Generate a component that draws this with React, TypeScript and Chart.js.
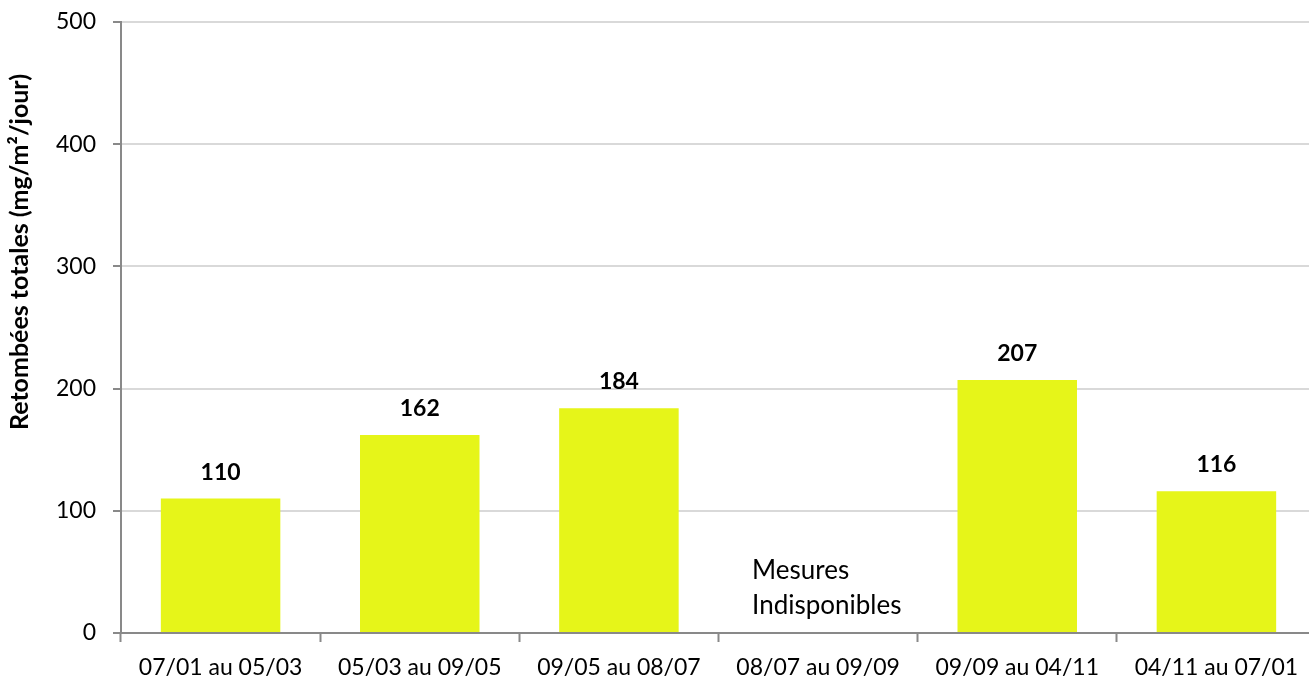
import React, { useEffect, useRef } from "react";
import { Chart, registerables } from "chart.js";

Chart.register(...registerables);

const categories = [
  "07/01 au 05/03",
  "05/03 au 09/05",
  "09/05 au 08/07",
  "08/07 au 09/09",
  "09/09 au 04/11",
  "04/11 au 07/01",
];
const values: (number | null)[] = [110, 162, 184, null, 207, 116];
const yTicks = [0, 100, 200, 300, 400, 500];
const yTitle = "Retombées totales (mg/m²/jour)";
const missingNote = ["Mesures", "Indisponibles"];
const missingIndex = 3;

const FONT = "Lato, 'Open Sans', sans-serif";

export default function App() {
  const ref = useRef<HTMLCanvasElement | null>(null);

  useEffect(() => {
    const canvas = ref.current;
    if (!canvas) return;

    const overlay = {
      id: "overlay",
      afterDatasetsDraw(chart: any) {
        const ctx = chart.ctx;
        const xs = chart.scales.x;
        const ys = chart.scales.y;
        const meta = chart.getDatasetMeta(0);
        ctx.save();
        // data labels
        ctx.font = `bold 23px ${FONT}`;
        ctx.fillStyle = "#000";
        ctx.textAlign = "center";
        ctx.textBaseline = "alphabetic";
        values.forEach((v, i) => {
          if (v == null) return;
          const el = meta.data[i];
          ctx.fillText(String(v), el.x, el.y - 19);
        });
        // missing note
        ctx.font = `26px ${FONT}`;
        ctx.textAlign = "left";
        const cx = xs.getPixelForValue(missingIndex);
        const left = cx - 66;
        const base = ys.getPixelForValue(0);
        ctx.fillText(missingNote[0], left, base - 54);
        ctx.fillText(missingNote[1], left, base - 19);
        // y title
        ctx.font = `bold 25px ${FONT}`;
        ctx.textAlign = "center";
        ctx.textBaseline = "middle";
        ctx.translate(20, 252);
        ctx.rotate(-Math.PI / 2);
        ctx.fillText(yTitle, 0, 0);
        ctx.restore();
      },
    };

    const chart = new Chart(canvas, {
      type: "bar",
      data: {
        labels: categories,
        datasets: [
          {
            data: values,
            backgroundColor: "#E6F519",
            borderWidth: 0,
            categoryPercentage: 1,
            barPercentage: 0.6,
          },
        ],
      },
      options: {
        responsive: false,
        animation: false,
        devicePixelRatio: 1,
        layout: { padding: { top: 22, right: 2, left: 0, bottom: 0 } },
        plugins: {
          legend: { display: false },
          tooltip: { enabled: false },
          title: { display: false },
        },
        scales: {
          x: {
            offset: true,
            grid: {
              offset: true,
              drawOnChartArea: false,
              drawTicks: true,
              tickLength: 9,
              tickColor: "#898989",
              tickWidth: 2,
            },
            border: { color: "#898989", width: 2 },
            ticks: {
              color: "#000",
              font: { family: FONT, size: 23 },
              padding: 12,
              maxRotation: 0,
              autoSkip: false,
            },
            afterFit(scale: any) {
              scale.height = 47;
              scale.paddingLeft = 0;
              scale.paddingRight = 0;
            },
          },
          y: {
            min: 0,
            max: 500,
            afterBuildTicks(scale: any) {
              scale.ticks = yTicks.map((v) => ({ value: v }));
            },
            grid: {
              color: "#D9D9D9",
              lineWidth: 2,
              drawTicks: true,
              tickLength: 8,
              tickColor: "#898989",
              tickWidth: 2,
            },
            border: { color: "#898989", width: 2 },
            ticks: {
              color: "#000",
              font: { family: FONT, size: 23 },
              padding: 17,
            },
            afterFit(scale: any) {
              scale.width = 121;
              scale.paddingTop = 0;
              scale.paddingBottom = 0;
            },
          },
        },
      },
      plugins: [overlay],
    });

    return () => chart.destroy();
  }, []);

  return (
    <div
      style={{
        position: "fixed",
        top: 0,
        left: 0,
        width: 1309,
        height: 680,
        overflow: "hidden",
        background: "#fff",
      }}
    >
      <canvas ref={ref} width={1318} height={680} style={{ display: "block" }} />
    </div>
  );
}
